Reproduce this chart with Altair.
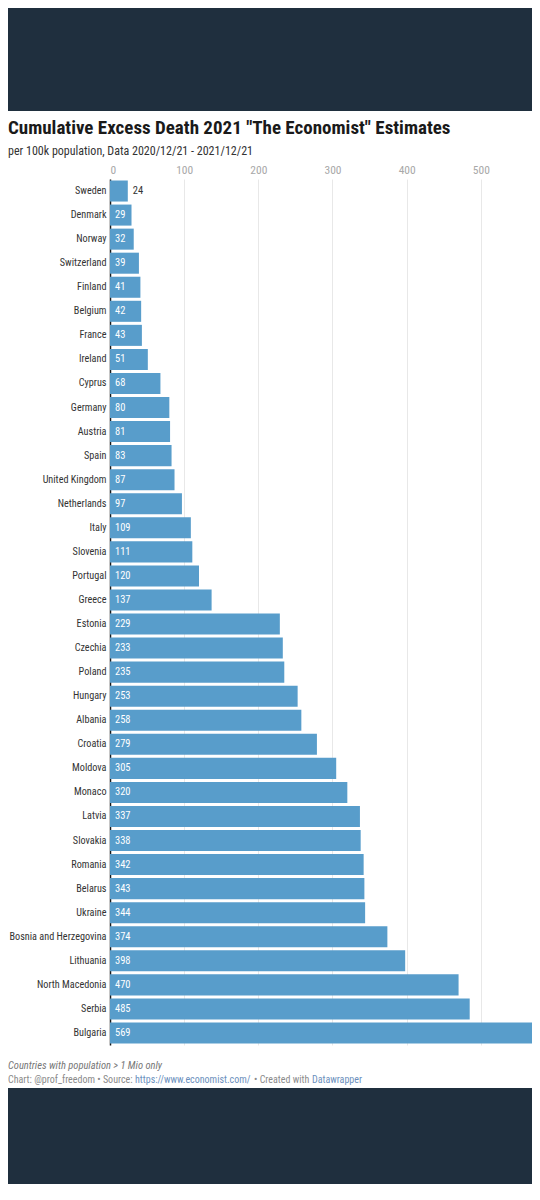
import altair as alt
import pandas as pd

countries = ["Sweden", "Denmark", "Norway", "Switzerland", "Finland", "Belgium", "France",
             "Ireland", "Cyprus", "Germany", "Austria", "Spain", "United Kingdom", "Netherlands",
             "Italy", "Slovenia", "Portugal", "Greece", "Estonia", "Czechia", "Poland", "Hungary",
             "Albania", "Croatia", "Moldova", "Monaco", "Latvia", "Slovakia", "Romania", "Belarus",
             "Ukraine", "Bosnia and Herzegovina", "Lithuania", "North Macedonia", "Serbia", "Bulgaria"]
values = [24, 29, 32, 39, 41, 42, 43, 51, 68, 80, 81, 83, 87, 97, 109, 111, 120, 137, 229, 233,
          235, 253, 258, 279, 305, 320, 337, 338, 342, 343, 344, 374, 398, 470, 485, 569]

title_text = 'Cumulative Excess Death 2021 "The Economist" Estimates'
subtitle_text = "per 100k population, Data 2020/12/21 - 2021/12/21"
note_text = "Countries with population > 1 Mio only"
credit_parts = ["Chart: @prof_freedom \u2022 Source: ", "https://www.economist.com/",
                "\u2022 Created with ", "Datawrapper"]

df = pd.DataFrame({"country": countries, "value": values})
df["inside"] = df["value"] > 25

W, H = 422, 866
DARK = "#1f2f3e"
BAR = "#589dcb"
FONT = "'Roboto Condensed', 'Liberation Sans Narrow', 'DejaVu Sans Condensed', Roboto"

x_enc = alt.X("value:Q", scale=alt.Scale(domain=[0, 569], nice=False, zero=True),
              axis=alt.Axis(orient="top", values=[0, 100, 200, 300, 400, 500], title=None,
                            grid=True, gridColor="#e8e8e8", gridWidth=1, ticks=False, domain=False,
                            labelColor="#a8a8a8", labelFontSize=11.5, labelFont=FONT,
                            labelPadding=4))
y_enc = alt.Y("country:N", sort=countries, title=None,
              scale=alt.Scale(paddingInner=0.125, paddingOuter=0.0625),
              axis=alt.Axis(ticks=False, domain=True, domainColor="#1a1a1a", domainWidth=1.5,
                            labelColor="#333333", labelFontSize=10.2, labelFont=FONT,
                            labelPadding=4, grid=False, labelLimit=200))

base = alt.Chart(df)
bars = base.mark_bar(color=BAR).encode(x=x_enc, y=y_enc)
lab_in = base.transform_filter("datum.inside").mark_text(
    align="left", baseline="middle", dx=5, color="white", fontSize=10.5, font=FONT
).encode(x=alt.datum(0), y=alt.Y("country:N", sort=countries), text="value:Q")
lab_out = base.transform_filter("!datum.inside").mark_text(
    align="left", baseline="middle", dx=5, color="#333333", fontSize=10.5, font=FONT
).encode(x="value:Q", y=alt.Y("country:N", sort=countries), text="value:Q")

one = alt.Data(values=[{}])
band_top = alt.Chart(one).mark_rect(color=DARK).encode(
    x=alt.value(-102), x2=alt.value(W), y=alt.value(-171), y2=alt.value(-68))
band_bot = alt.Chart(one).mark_rect(color=DARK).encode(
    x=alt.value(-102), x2=alt.value(W), y=alt.value(909), y2=alt.value(H + 139))

title = alt.Chart(one).mark_text(text=title_text, align="left", baseline="alphabetic", font=FONT,
                                 fontSize=19, fontWeight="bold", color="#1a1a1a").encode(
    x=alt.value(-102), y=alt.value(-45))
subtitle = alt.Chart(one).mark_text(text=subtitle_text, align="left", baseline="alphabetic",
                                    font=FONT, fontSize=12, color="#333333").encode(
    x=alt.value(-102), y=alt.value(-24))

note = alt.Chart(one).mark_text(text=note_text, align="left", baseline="middle", font=FONT,
                                fontSize=10.5, fontStyle="italic", color="#777777").encode(
    x=alt.value(-102), y=alt.value(887))

credit_x = [-102, 25, 144, 202]
credit_col = ["#8a8a8a", "#6b8fbd", "#8a8a8a", "#6b8fbd"]
credits = [alt.Chart(one).mark_text(text=t, align="left", baseline="middle", font=FONT,
                                    fontSize=10, color=c).encode(x=alt.value(xx), y=alt.value(901))
           for t, xx, c in zip(credit_parts, credit_x, credit_col)]

chart = alt.layer(band_top, band_bot, bars, lab_in, lab_out, title, subtitle, note,
                  *credits).properties(
    width=W, height=H,
    autosize=alt.AutoSizeParams(type="none"),
    padding={"left": 102, "top": 171, "right": 0, "bottom": 139},
    background="white",
).configure_view(stroke=None)

chart.save("out.html", embed_options={"renderer": "svg", "actions": False})
